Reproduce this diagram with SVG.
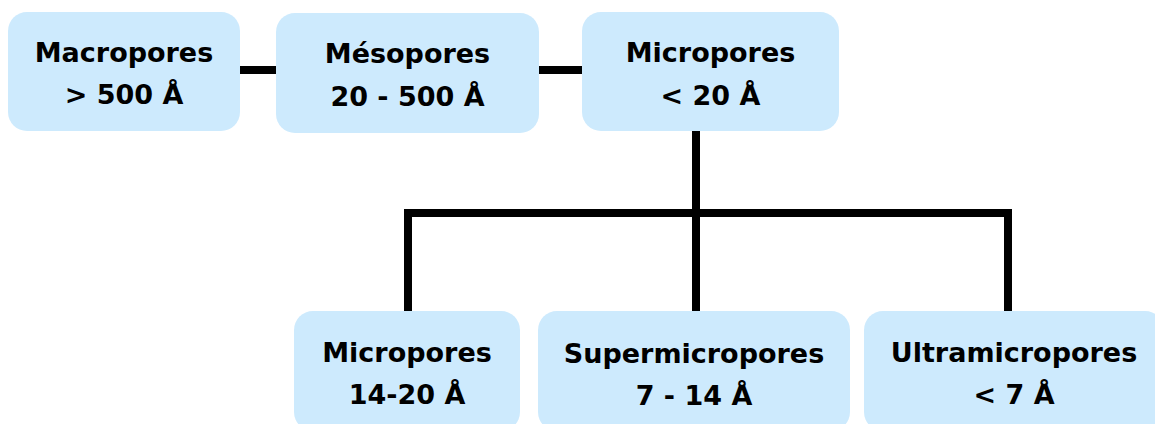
<svg xmlns="http://www.w3.org/2000/svg" width="1155" height="424" viewBox="0 0 1155 424">
  <style>
    .box { fill: #cdeafd; }
    .lbl { font-family: "Comic Sans MS", "DejaVu Sans", sans-serif; font-weight: bold; font-size: 27px; fill: #000; text-anchor: middle; }
    .link { fill: none; stroke: #000; stroke-width: 8; stroke-linejoin: miter; }
  </style>
  <rect width="1155" height="424" fill="#ffffff"/>

  <!-- connectors -->
  <g id="connectors">
    <path class="link" d="M240,70 H276"/>
    <path class="link" d="M539,70 H582"/>
    <path class="link" d="M696,131 V311"/>
    <path class="link" d="M408,311 V213 H1008 V311"/>
  </g>

  <!-- top row -->
  <g id="macropores">
    <rect class="box" x="8" y="12" width="232" height="119" rx="19"/>
    <text class="lbl" x="124" y="62">Macropores</text>
    <text class="lbl" x="124" y="104">&gt; 500 Å</text>
  </g>
  <g id="mesopores">
    <rect class="box" x="276" y="13" width="263" height="120" rx="19"/>
    <text class="lbl" x="407.5" y="63">Mésopores</text>
    <text class="lbl" x="407.5" y="106">20 - 500 Å</text>
  </g>
  <g id="micropores">
    <rect class="box" x="582" y="12" width="257" height="119" rx="19"/>
    <text class="lbl" x="710.5" y="62">Micropores</text>
    <text class="lbl" x="710.5" y="105">&lt; 20 Å</text>
  </g>

  <!-- bottom row -->
  <g id="micropores-14-20">
    <rect class="box" x="294" y="311" width="226" height="120" rx="19"/>
    <text class="lbl" x="407" y="362">Micropores</text>
    <text class="lbl" x="407" y="404">14-20 Å</text>
  </g>
  <g id="supermicropores">
    <rect class="box" x="538" y="311" width="312" height="120" rx="19"/>
    <text class="lbl" x="694" y="363">Supermicropores</text>
    <text class="lbl" x="694" y="405">7 - 14 Å</text>
  </g>
  <g id="ultramicropores">
    <rect class="box" x="864" y="311" width="300" height="120" rx="19"/>
    <text class="lbl" x="1014" y="362">Ultramicropores</text>
    <text class="lbl" x="1014" y="404">&lt; 7 Å</text>
  </g>
</svg>
